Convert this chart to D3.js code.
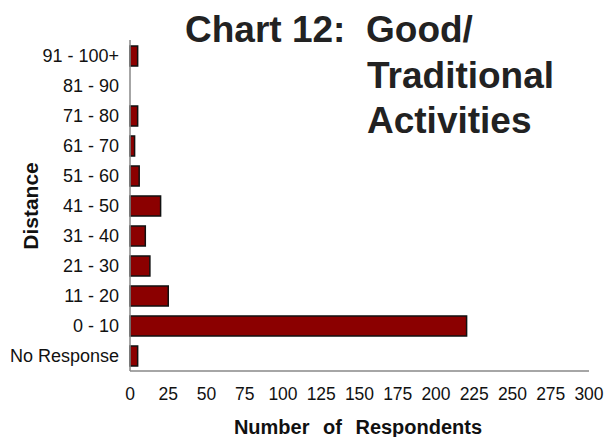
<!DOCTYPE html>
<html><head><meta charset="utf-8">
<script src="https://cdn.jsdelivr.net/npm/d3@7/dist/d3.min.js"></script>
<style>body{margin:0;background:#fff}svg{display:block}</style>
</head><body>
<svg id="c" width="607" height="437"></svg>
<script>
const categories = ["91 - 100+","81 - 90","71 - 80","61 - 70","51 - 60","41 - 50","31 - 40","21 - 30","11 - 20","0 - 10","No Response"];
const values = [5,0,5,3,6,20,10,13,25,220,5];
const xTicks = [0,25,50,75,100,125,150,175,200,225,250,275,300];
const titleParts = ["Chart 12:","Good/","Traditional","Activities"];

const svg = d3.select("#c");
const m = {left:130, right:589, top:41, bottom:371};
const x = d3.scaleLinear().domain([0,300]).range([m.left, m.right]);
const y = d3.scaleBand().domain(categories).range([m.top, m.bottom]).paddingInner(0.333).paddingOuter(0.1667);
const FONT = "Liberation Sans, Arial, sans-serif";

// bars
svg.append("g").selectAll("rect").data(categories.map((c,i)=>({c,v:values[i]})).filter(d=>d.v>0))
  .join("rect")
  .attr("x", x(0)).attr("y", d=>y(d.c))
  .attr("width", d=>x(d.v)-x(0)).attr("height", y.bandwidth())
  .attr("fill","#8b0000").attr("stroke","#111").attr("stroke-width",1.5);

// axes lines
svg.append("line").attr("x1",x(0)).attr("x2",x(0)).attr("y1",m.top-1).attr("y2",m.bottom)
  .attr("stroke","#888").attr("stroke-width",1.5);
svg.append("line").attr("x1",x(0)).attr("x2",m.right).attr("y1",m.bottom).attr("y2",m.bottom)
  .attr("stroke","#888").attr("stroke-width",1.5);

// category labels
svg.append("g").selectAll("text").data(categories).join("text")
  .attr("x",119).attr("y",d=>y(d)+y.bandwidth()/2).attr("dy","0.35em")
  .attr("text-anchor","end").attr("font-family",FONT)
  .attr("font-size",18).attr("fill","#111").text(d=>d);

// x tick labels
svg.append("g").selectAll("text").data(xTicks).join("text")
  .attr("x",d=>x(d)).attr("y",400).attr("text-anchor","middle")
  .attr("font-family",FONT).attr("font-size",17.5).attr("fill","#111")
  .text(d=>d);

// axis titles
svg.append("text").attr("x",358).attr("y",434).attr("text-anchor","middle")
  .attr("font-family",FONT).attr("font-weight","bold")
  .attr("font-size",20).attr("word-spacing","8px").attr("fill","#111").text("Number of Respondents");
svg.append("text").attr("transform","translate(38,206) rotate(-90)").attr("text-anchor","middle")
  .attr("font-family",FONT).attr("font-weight","bold")
  .attr("font-size",21).attr("fill","#111").text("Distance");

// title
const tx = [185,366,367,367], ty = [42,42,88,133];
svg.append("g").selectAll("text").data(titleParts).join("text")
  .attr("x",(d,i)=>tx[i]).attr("y",(d,i)=>ty[i])
  .attr("font-family",FONT).attr("font-weight","bold")
  .attr("font-size",37).attr("fill","#222").text(d=>d);
</script>
</body></html>
